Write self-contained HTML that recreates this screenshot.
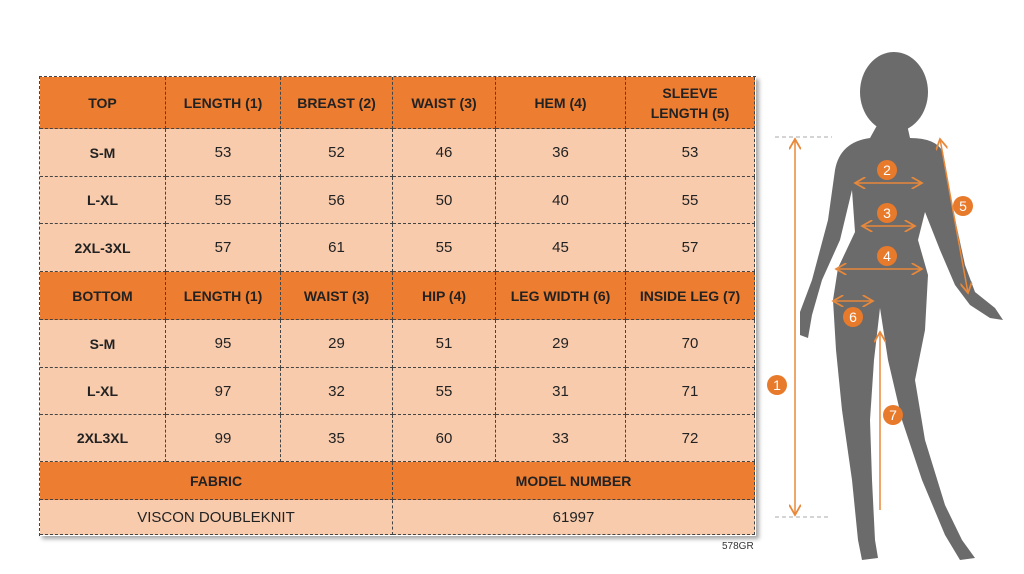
<!DOCTYPE html>
<html><head><meta charset="utf-8"><style>
body{margin:0;width:1024px;height:574px;background:#fff;position:relative;overflow:hidden;font-family:"Liberation Sans",sans-serif}
.c{position:absolute;display:flex;align-items:center;justify-content:center;text-align:center;box-sizing:border-box;border-right:1px dashed #444;border-bottom:1px dashed #444;color:#222}
.h{background:#ed7d31;font-weight:bold;font-size:14px;line-height:20px}
.d{background:#f8cbad;font-size:15px}
.b{font-weight:bold;font-size:14px}
#t{position:absolute;left:39px;top:76px;width:716px;height:459px;border-left:1px dashed #444;border-top:1px dashed #444;box-shadow:3px 3px 4px rgba(0,0,0,.35)}
</style></head><body>
<div id="t"></div>
<div id="cells"></div>
<script>
var X=[40,166,281,393,496,626,755],Y=[77,129,177,224,272,320,368,415,462,500,535];
var rows=[
["h",["TOP","LENGTH (1)","BREAST (2)","WAIST (3)","HEM (4)","SLEEVE<br>LENGTH (5)"]],
["d",["S-M","53","52","46","36","53"]],
["d",["L-XL","55","56","50","40","55"]],
["d",["2XL-3XL","57","61","55","45","57"]],
["h",["BOTTOM","LENGTH (1)","WAIST (3)","HIP (4)","LEG WIDTH (6)","INSIDE LEG (7)"]],
["d",["S-M","95","29","51","29","70"]],
["d",["L-XL","97","32","55","31","71"]],
["d",["2XL3XL","99","35","60","33","72"]]];
var s="";
rows.forEach(function(r,i){r[1].forEach(function(t,j){
s+='<div class="c '+r[0]+(j==0&&r[0]=="d"?' b':'')+'" style="left:'+X[j]+'px;top:'+Y[i]+'px;width:'+(X[j+1]-X[j])+'px;height:'+(Y[i+1]-Y[i])+'px">'+t+'</div>';});});
s+='<div class="c h" style="left:40px;top:462px;width:353px;height:38px">FABRIC</div>';
s+='<div class="c h" style="left:393px;top:462px;width:362px;height:38px">MODEL NUMBER</div>';
s+='<div class="c d" style="left:40px;top:500px;width:353px;height:35px">VISCON DOUBLEKNIT</div>';
s+='<div class="c d" style="left:393px;top:500px;width:362px;height:35px">61997</div>';
document.getElementById("cells").innerHTML=s;
</script>
<div style="position:absolute;left:722px;top:541px;font-size:10px;color:#333">578GR</div>
<svg width="1024" height="574" style="position:absolute;left:0;top:0">
<defs><marker id="a" markerWidth="8" markerHeight="8" refX="7" refY="4" orient="auto-start-reverse"><path d="M0,0 L7,4 L0,8" fill="none" stroke="#e8883a" stroke-width="1.2"/></marker></defs>
<ellipse cx="894" cy="92" rx="34" ry="40" fill="#6b6b6b"/>
<path fill="#6b6b6b" d="M880,120 L906,120 L910,138 Q936,138 943,152 L952,205 L965,265 L975,292 L995,308 L1003,320 L990,318 L970,305 L955,285 L940,250 L925,212 L918,240 L928,275 L925,330 L915,380 L925,440 L945,505 L962,540 L975,558 L960,560 L945,535 L922,480 L902,420 L888,360 L880,308 L874,360 L870,420 L872,480 L875,540 L878,558 L862,560 L858,540 L852,480 L842,410 L836,350 L833,300 L838,268 L855,232 L852,190 L840,240 L822,280 L812,315 L808,338 L800,335 L800,312 L812,280 L828,220 L835,170 Q840,142 870,138 Z"/>
<g stroke="#aaa" stroke-dasharray="4,3"><line x1="775" y1="137" x2="832" y2="137"/><line x1="775" y1="517" x2="828" y2="517"/></g>
<g stroke="#e8883a" stroke-width="1.5" fill="none">
<line x1="795" y1="139" x2="795" y2="515" marker-start="url(#a)" marker-end="url(#a)"/>
<line x1="880" y1="332" x2="880" y2="510" marker-start="url(#a)"/>
<line x1="855" y1="183" x2="922" y2="183" marker-start="url(#a)" marker-end="url(#a)"/>
<line x1="862" y1="226" x2="915" y2="226" marker-start="url(#a)" marker-end="url(#a)"/>
<line x1="836" y1="269" x2="922" y2="269" marker-start="url(#a)" marker-end="url(#a)"/>
<line x1="940" y1="139" x2="968" y2="293" marker-start="url(#a)" marker-end="url(#a)"/>
<line x1="833" y1="301" x2="873" y2="301" marker-start="url(#a)" marker-end="url(#a)"/>
</g>
<g fill="#e87a2c"><circle cx="777" cy="385" r="10"/><circle cx="893" cy="415" r="10"/><circle cx="887" cy="170" r="10"/><circle cx="887" cy="213" r="10"/><circle cx="887" cy="256" r="10"/><circle cx="963" cy="206" r="10"/><circle cx="853" cy="317" r="10"/></g>
<g fill="#fff" font-size="14" text-anchor="middle" font-family="Liberation Sans,sans-serif"><text x="777" y="390">1</text><text x="893" y="420">7</text><text x="887" y="175">2</text><text x="887" y="218">3</text><text x="887" y="261">4</text><text x="963" y="211">5</text><text x="853" y="322">6</text></g>
</svg>
</body></html>
